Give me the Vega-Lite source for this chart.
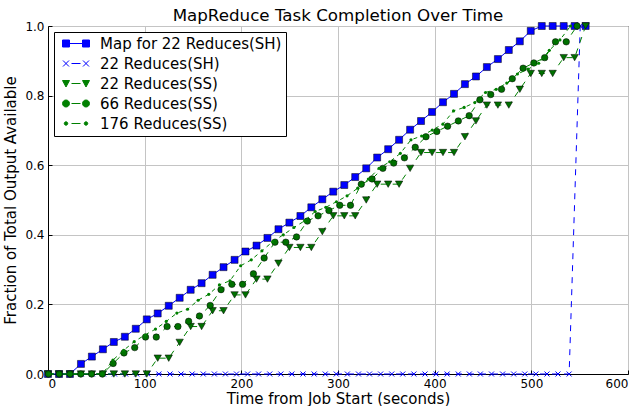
{
  "$schema": "https://vega.github.io/schema/vega-lite/v6.json",
  "width": 580,
  "height": 348,
  "autosize": "none",
  "padding": {"left": 48, "top": 26, "right": 11, "bottom": 32},
  "background": "white",
  "title": {"text": "MapReduce Task Completion Over Time", "fontSize": 16.7, "fontWeight": "normal", "font": "DejaVu Sans", "offset": -5, "color": "black"},
  "datasets": {
    "A": [
      {"t": 0, "y": 0}, {"t": 11.4, "y": 0}, {"t": 22.7, "y": 0}, {"t": 34.1, "y": 0.029}, {"t": 45.4, "y": 0.05},
      {"t": 56.8, "y": 0.071}, {"t": 68.1, "y": 0.092}, {"t": 79.5, "y": 0.107}, {"t": 90.8, "y": 0.13}, {"t": 102.2, "y": 0.157},
      {"t": 113.5, "y": 0.174}, {"t": 124.9, "y": 0.196}, {"t": 136.2, "y": 0.219}, {"t": 147.6, "y": 0.242}, {"t": 158.9, "y": 0.261},
      {"t": 170.3, "y": 0.285}, {"t": 181.6, "y": 0.307}, {"t": 193, "y": 0.328}, {"t": 204.3, "y": 0.352}, {"t": 215.7, "y": 0.369},
      {"t": 227, "y": 0.391}, {"t": 238.4, "y": 0.416}, {"t": 249.7, "y": 0.435}, {"t": 261.1, "y": 0.454}, {"t": 272.4, "y": 0.479},
      {"t": 283.8, "y": 0.502}, {"t": 295.1, "y": 0.524}, {"t": 306.5, "y": 0.543}, {"t": 317.8, "y": 0.566}, {"t": 329.2, "y": 0.591},
      {"t": 340.5, "y": 0.622}, {"t": 351.9, "y": 0.646}, {"t": 363.2, "y": 0.673}, {"t": 374.6, "y": 0.702}, {"t": 385.9, "y": 0.727},
      {"t": 397.3, "y": 0.753}, {"t": 408.6, "y": 0.781}, {"t": 420, "y": 0.805}, {"t": 431.3, "y": 0.833}, {"t": 442.7, "y": 0.855},
      {"t": 454, "y": 0.882}, {"t": 465.4, "y": 0.905}, {"t": 476.7, "y": 0.931}, {"t": 488.1, "y": 0.956}, {"t": 499.4, "y": 0.986},
      {"t": 510.8, "y": 1}, {"t": 522.1, "y": 1}, {"t": 533.5, "y": 1}, {"t": 544.8, "y": 1}, {"t": 556.2, "y": 1}
    ],
    "B": [
      {"t": 0, "y": 0}, {"t": 11.5, "y": 0}, {"t": 22.9, "y": 0}, {"t": 34.4, "y": 0}, {"t": 45.9, "y": 0},
      {"t": 57.4, "y": 0}, {"t": 68.8, "y": 0}, {"t": 80.3, "y": 0}, {"t": 91.8, "y": 0}, {"t": 103.2, "y": 0},
      {"t": 114.7, "y": 0}, {"t": 126.2, "y": 0}, {"t": 137.6, "y": 0}, {"t": 149.1, "y": 0}, {"t": 160.6, "y": 0},
      {"t": 172.1, "y": 0}, {"t": 183.5, "y": 0}, {"t": 195, "y": 0}, {"t": 206.5, "y": 0}, {"t": 217.9, "y": 0},
      {"t": 229.4, "y": 0}, {"t": 240.9, "y": 0}, {"t": 252.3, "y": 0}, {"t": 263.8, "y": 0}, {"t": 275.3, "y": 0},
      {"t": 286.8, "y": 0}, {"t": 298.2, "y": 0}, {"t": 309.7, "y": 0}, {"t": 321.2, "y": 0}, {"t": 332.6, "y": 0},
      {"t": 344.1, "y": 0}, {"t": 355.6, "y": 0}, {"t": 367, "y": 0}, {"t": 378.5, "y": 0}, {"t": 390, "y": 0},
      {"t": 401.5, "y": 0}, {"t": 412.9, "y": 0}, {"t": 424.4, "y": 0}, {"t": 435.9, "y": 0}, {"t": 447.3, "y": 0},
      {"t": 458.8, "y": 0}, {"t": 470.3, "y": 0}, {"t": 481.7, "y": 0}, {"t": 493.2, "y": 0}, {"t": 504.7, "y": 0},
      {"t": 516.2, "y": 0}, {"t": 527.6, "y": 0}, {"t": 539.1, "y": 0}, {"t": 550.6, "y": 1}
    ],
    "C": [
      {"t": 0, "y": 0}, {"t": 11.4, "y": 0}, {"t": 22.7, "y": 0}, {"t": 34.1, "y": 0}, {"t": 45.4, "y": 0},
      {"t": 56.8, "y": 0}, {"t": 68.1, "y": 0}, {"t": 79.5, "y": 0}, {"t": 90.8, "y": 0}, {"t": 102.2, "y": 0},
      {"t": 113.5, "y": 0.0455}, {"t": 124.9, "y": 0.0455}, {"t": 136.2, "y": 0.0909}, {"t": 147.6, "y": 0.1364}, {"t": 158.9, "y": 0.1364},
      {"t": 170.3, "y": 0.1818}, {"t": 181.6, "y": 0.1818}, {"t": 193, "y": 0.2273}, {"t": 204.3, "y": 0.2273}, {"t": 215.7, "y": 0.2727},
      {"t": 227, "y": 0.2727}, {"t": 238.4, "y": 0.3182}, {"t": 249.7, "y": 0.3636}, {"t": 261.1, "y": 0.3636}, {"t": 272.4, "y": 0.3636},
      {"t": 283.8, "y": 0.4091}, {"t": 295.1, "y": 0.4545}, {"t": 306.5, "y": 0.4545}, {"t": 317.8, "y": 0.4545}, {"t": 329.2, "y": 0.5},
      {"t": 340.5, "y": 0.5455}, {"t": 351.9, "y": 0.5455}, {"t": 363.2, "y": 0.5455}, {"t": 374.6, "y": 0.5909}, {"t": 385.9, "y": 0.6364},
      {"t": 397.3, "y": 0.6364}, {"t": 408.6, "y": 0.6364}, {"t": 420, "y": 0.6364}, {"t": 431.3, "y": 0.6818}, {"t": 442.7, "y": 0.7273},
      {"t": 454, "y": 0.7727}, {"t": 465.4, "y": 0.7727}, {"t": 476.7, "y": 0.7727}, {"t": 488.1, "y": 0.8182}, {"t": 499.4, "y": 0.8636},
      {"t": 510.8, "y": 0.8636}, {"t": 522.1, "y": 0.8636}, {"t": 533.5, "y": 0.9091}, {"t": 544.8, "y": 0.9091}, {"t": 556.2, "y": 1}
    ],
    "D": [
      {"t": 0.4, "y": 0}, {"t": 11.6, "y": 0}, {"t": 22.8, "y": 0}, {"t": 33.9, "y": 0}, {"t": 45.1, "y": 0},
      {"t": 56.2, "y": 0}, {"t": 67.4, "y": 0.0303}, {"t": 78.6, "y": 0.0606}, {"t": 89.7, "y": 0.0758}, {"t": 100.9, "y": 0.1061},
      {"t": 112, "y": 0.1061}, {"t": 123.2, "y": 0.1364}, {"t": 134.4, "y": 0.1364}, {"t": 145.5, "y": 0.1515}, {"t": 156.7, "y": 0.1667},
      {"t": 167.8, "y": 0.197}, {"t": 179, "y": 0.2424}, {"t": 190.2, "y": 0.2576}, {"t": 201.3, "y": 0.2576}, {"t": 212.5, "y": 0.2879},
      {"t": 223.6, "y": 0.3333}, {"t": 234.8, "y": 0.3788}, {"t": 246, "y": 0.3788}, {"t": 257.1, "y": 0.3939}, {"t": 268.3, "y": 0.4394},
      {"t": 279.4, "y": 0.4545}, {"t": 290.6, "y": 0.4697}, {"t": 301.8, "y": 0.4848}, {"t": 312.9, "y": 0.4848}, {"t": 324.1, "y": 0.5455},
      {"t": 335.2, "y": 0.5606}, {"t": 346.4, "y": 0.5909}, {"t": 357.6, "y": 0.6061}, {"t": 368.7, "y": 0.6212}, {"t": 379.9, "y": 0.6515},
      {"t": 391, "y": 0.6818}, {"t": 402.2, "y": 0.697}, {"t": 413.4, "y": 0.7121}, {"t": 424.5, "y": 0.7273}, {"t": 435.7, "y": 0.7424},
      {"t": 446.8, "y": 0.7879}, {"t": 458, "y": 0.803}, {"t": 469.2, "y": 0.8182}, {"t": 480.3, "y": 0.8485}, {"t": 491.5, "y": 0.8788},
      {"t": 502.6, "y": 0.8939}, {"t": 513.8, "y": 0.9091}, {"t": 525, "y": 0.9545}, {"t": 536.1, "y": 0.9545}, {"t": 547.3, "y": 1}
    ],
    "E": [
      {"t": 1.1, "y": 0}, {"t": 12.2, "y": 0}, {"t": 23.2, "y": 0}, {"t": 34.2, "y": 0}, {"t": 45.2, "y": 0},
      {"t": 56.2, "y": 0}, {"t": 67.2, "y": 0.04}, {"t": 78.2, "y": 0.068}, {"t": 89.2, "y": 0.093}, {"t": 100.2, "y": 0.112},
      {"t": 111.2, "y": 0.129}, {"t": 122.3, "y": 0.151}, {"t": 133.3, "y": 0.175}, {"t": 144.3, "y": 0.186}, {"t": 155.3, "y": 0.212},
      {"t": 166.3, "y": 0.229}, {"t": 177.3, "y": 0.256}, {"t": 188.3, "y": 0.268}, {"t": 199.3, "y": 0.311}, {"t": 210.3, "y": 0.328},
      {"t": 221.3, "y": 0.354}, {"t": 232.4, "y": 0.38}, {"t": 243.4, "y": 0.4}, {"t": 254.4, "y": 0.421}, {"t": 265.4, "y": 0.44},
      {"t": 276.4, "y": 0.467}, {"t": 287.4, "y": 0.479}, {"t": 298.4, "y": 0.495}, {"t": 309.4, "y": 0.512}, {"t": 320.4, "y": 0.534},
      {"t": 331.4, "y": 0.56}, {"t": 342.5, "y": 0.591}, {"t": 353.5, "y": 0.61}, {"t": 364.5, "y": 0.634}, {"t": 375.5, "y": 0.673},
      {"t": 386.5, "y": 0.684}, {"t": 397.5, "y": 0.701}, {"t": 408.5, "y": 0.718}, {"t": 419.5, "y": 0.756}, {"t": 430.5, "y": 0.766},
      {"t": 441.5, "y": 0.78}, {"t": 452.6, "y": 0.809}, {"t": 463.6, "y": 0.818}, {"t": 474.6, "y": 0.836}, {"t": 485.6, "y": 0.862},
      {"t": 496.6, "y": 0.876}, {"t": 507.6, "y": 0.893}, {"t": 518.6, "y": 0.93}, {"t": 529.6, "y": 0.96}, {"t": 540.6, "y": 1}
    ]
  },
  "encoding": {
    "x": {"field": "t", "type": "quantitative", "scale": {"domain": [0, 600], "nice": false},
      "axis": {"values": [0, 100, 200, 300, 400, 500, 600], "title": "Time from Job Start (seconds)", "format": "d"}},
    "y": {"field": "y", "type": "quantitative", "scale": {"domain": [0, 1], "nice": false},
      "axis": {"values": [0, 0.2, 0.4, 0.6, 0.8, 1.0], "format": ".1f", "title": "Fraction of Total Output Available"}}
  },
  "layer": [
    {
      "data": {"name": "A"},
      "transform": [{"calculate": "'Map for 22 Reduces(SH)'", "as": "series"}],
      "mark": {"type": "line", "strokeWidth": 1, "color": "#0000ff"},
      "encoding": {
        "color": {"field": "series", "type": "nominal",
          "scale": {"domain": ["Map for 22 Reduces(SH)", "22 Reduces(SH)", "22 Reduces(SS)", "66 Reduces(SS)", "176 Reduces(SS)"],
                    "range": ["#0000ff", "#0000ff", "#008000", "#008000", "#008000"]},
          "legend": {
            "title": null, "orient": "top-left", "offset": 6, "padding": 4,
            "strokeColor": "black", "fillColor": "white", "cornerRadius": 0,
            "labelFont": "DejaVu Sans", "labelFontSize": 15, "labelColor": "black", "labelLimit": 0,
            "labelOffset": 25, "rowPadding": 4, "symbolSize": 100, "symbolOffset": 2,
            "values": ["Map for 22 Reduces(SH)", "22 Reduces(SH)", "22 Reduces(SS)", "66 Reduces(SS)", "176 Reduces(SS)"],
            "encode": {"symbols": {"update": {
              "shape": {"signal": "datum.value === 'Map for 22 Reduces(SH)' ? 'M-0.3,0H3.7M-1,-0.7H0.4V0.7H-1ZM3,-0.7H4.4V0.7H3Z' : datum.value === '22 Reduces(SH)' ? 'M0.8,0H2.6M-0.9,-0.6L0.3,0.6M-0.9,0.6L0.3,-0.6M3.1,-0.6L4.3,0.6M3.1,0.6L4.3,-0.6' : datum.value === '22 Reduces(SS)' ? 'M0.8,0H2.6M-1,-0.6H0.4L-0.3,0.7ZM3,-0.6H4.4L3.7,0.7Z' : datum.value === '66 Reduces(SS)' ? 'M0.8,0H2.6M-1,0A0.7,0.7,0,1,0,0.4,0A0.7,0.7,0,1,0,-1,0ZM3,0A0.7,0.7,0,1,0,4.4,0A0.7,0.7,0,1,0,3,0Z' : 'M0.8,0H2.6M-0.65,0A0.35,0.35,0,1,0,0.05,0A0.35,0.35,0,1,0,-0.65,0ZM3.35,0A0.35,0.35,0,1,0,4.05,0A0.35,0.35,0,1,0,3.35,0Z'"},
              "fill": {"signal": "indexof(['Map for 22 Reduces(SH)', '22 Reduces(SH)'], datum.value) >= 0 ? '#0000ff' : '#008000'"},
              "stroke": {"signal": "indexof(['Map for 22 Reduces(SH)', '22 Reduces(SH)'], datum.value) >= 0 ? '#0000ff' : '#008000'"},
              "strokeWidth": {"value": 1},
              "strokeDash": {"value": []},
              "opacity": {"value": 1},
              "size": {"value": 100}
            }}}
          }
        }
      }
    },
    {
      "data": {"name": "A"},
      "mark": {"type": "point", "shape": "square", "filled": true, "fill": "#0000ff", "stroke": "black", "strokeWidth": 0.5, "size": 49, "opacity": 1}
    },
    {
      "data": {"name": "B"},
      "mark": {"type": "line", "strokeWidth": 1, "color": "#0000ff", "strokeDash": [6, 6]}
    },
    {
      "data": {"name": "B"},
      "mark": {"type": "point", "shape": "M-1,-1L1,1M-1,1L1,-1", "filled": false, "stroke": "#0000ff", "strokeWidth": 1, "size": 25, "opacity": 1}
    },
    {
      "data": {"name": "C"},
      "mark": {"type": "line", "strokeWidth": 1, "color": "#008000", "strokeDash": [6, 6]}
    },
    {
      "data": {"name": "C"},
      "mark": {"type": "point", "shape": "triangle-down", "filled": true, "fill": "#007000", "stroke": "black", "strokeWidth": 0.5, "size": 55, "opacity": 1}
    },
    {
      "data": {"name": "D"},
      "mark": {"type": "line", "strokeWidth": 1, "color": "#008000", "strokeDash": [6, 6]}
    },
    {
      "data": {"name": "D"},
      "mark": {"type": "point", "shape": "circle", "filled": true, "fill": "#007000", "stroke": "black", "strokeWidth": 0.5, "size": 42, "opacity": 1}
    },
    {
      "data": {"name": "E"},
      "mark": {"type": "line", "strokeWidth": 1, "color": "#008000", "strokeDash": [4, 4]}
    },
    {
      "data": {"name": "E"},
      "mark": {"type": "point", "shape": "circle", "filled": true, "fill": "#008000", "strokeWidth": 0, "size": 10, "opacity": 1}
    }
  ],
  "config": {
    "font": "DejaVu Sans",
    "view": {"stroke": "black", "strokeWidth": 1},
    "axis": {
      "labelFont": "DejaVu Sans", "labelFontSize": 12, "labelColor": "black",
      "titleFont": "DejaVu Sans", "titleFontSize": 15, "titleFontWeight": "normal", "titleColor": "black",
      "domainColor": "black", "tickColor": "black", "tickSize": -4, "labelPadding": 8,
      "gridColor": "#c4c4c4", "gridWidth": 1, "gridOpacity": 1
    },
    "axisX": {"titlePadding": 2},
    "axisY": {"titlePadding": 6}
  }
}
